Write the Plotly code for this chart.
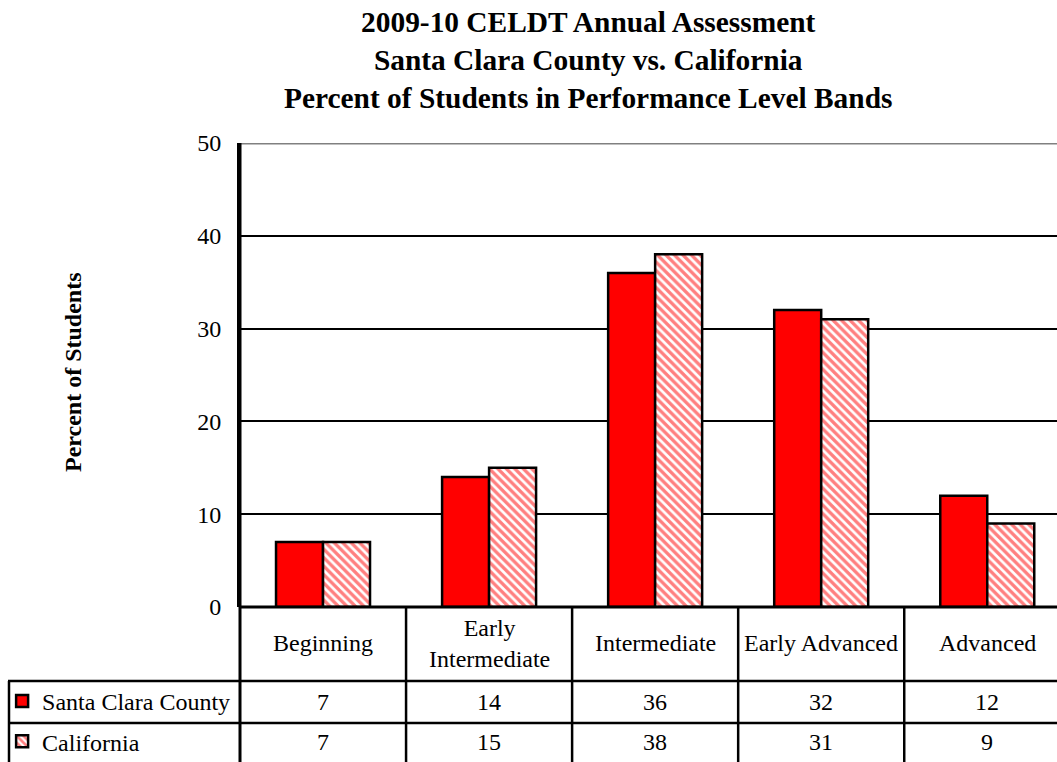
import plotly.graph_objects as go

categories = ["Beginning", "Early Intermediate", "Intermediate", "Early Advanced", "Advanced"]
header_labels = ["Beginning", "Early<br>Intermediate", "Intermediate", "Early Advanced", "Advanced"]
scc_values = [7, 14, 36, 32, 12]
ca_values = [7, 15, 38, 31, 9]
series_names = ["Santa Clara County", "California"]
y_ticks = [0, 10, 20, 30, 40, 50]
title_lines = ["2009-10 CELDT Annual Assessment", "Santa Clara County vs. California",
               "Percent of Students in Performance Level Bands"]
y_title = "Percent of Students"

W, H = 1057, 762
FONT = "Liberation Serif, Times New Roman, serif"

def px(p):
    return p / W

def py(p):
    return 1 - p / H

x_idx = list(range(len(categories)))

fig = go.Figure()
fig.add_trace(go.Bar(
    x=x_idx, y=scc_values, name=series_names[0], legendgroup="a",
    marker=dict(color="#FF0000", line=dict(color="black", width=2.5)),
))
fig.add_trace(go.Bar(
    x=x_idx, y=ca_values, name=series_names[1], legendgroup="b",
    marker=dict(color="white", line=dict(color="black", width=2.5),
                pattern=dict(shape="\\", fgcolor="#FF0000", bgcolor="white",
                             size=6, solidity=0.55)),
))

shapes = []
shapes.append(dict(type="line", xref="paper", yref="y", x0=px(240), x1=1, y0=50, y1=50,
                   line=dict(color="#808080", width=3)))
for i in range(len(categories)):
    shapes.append(dict(type="line", xref="x", yref="paper", x0=i + 0.5, x1=i + 0.5,
                       y0=py(607), y1=0, line=dict(color="black", width=2.5)))
shapes.append(dict(type="line", xref="paper", yref="paper", x0=px(240), x1=px(240),
                   y0=py(143), y1=0, line=dict(color="black", width=3)))
shapes.append(dict(type="line", xref="paper", yref="paper", x0=px(9), x1=px(9),
                   y0=py(681), y1=0, line=dict(color="black", width=2.5)))
for yy in [681, 723]:
    shapes.append(dict(type="line", xref="paper", yref="paper", x0=px(8), x1=1,
                       y0=py(yy), y1=py(yy), line=dict(color="black", width=2.5)))
shapes.append(dict(type="line", xref="paper", yref="paper", x0=px(240), x1=1,
                   y0=py(607), y1=py(607), line=dict(color="black", width=3)))

tfont = dict(family=FONT, size=24, color="black")
annotations = []
for i, lab in enumerate(header_labels):
    annotations.append(dict(x=i, xref="x", y=py(643), yref="paper", text=lab,
                            xanchor="center", yanchor="middle", showarrow=False, font=tfont))
for i, (a, b) in enumerate(zip(scc_values, ca_values)):
    annotations.append(dict(x=i, xref="x", y=py(702), yref="paper", text=str(a),
                            xanchor="center", yanchor="middle", showarrow=False, font=tfont))
    annotations.append(dict(x=i, xref="x", y=py(742), yref="paper", text=str(b),
                            xanchor="center", yanchor="middle", showarrow=False, font=tfont))
annotations.append(dict(x=px(73), y=py(372), xref="paper", yref="paper",
                        text="<b>" + y_title + "</b>", textangle=-90, showarrow=False,
                        xanchor="center", yanchor="middle",
                        font=dict(family=FONT, size=24, color="black")))
annotations.append(dict(x=px(588), y=py(60), xref="paper", yref="paper",
                        text="<b>" + "<br>".join(title_lines) + "</b>", showarrow=False,
                        xanchor="center", yanchor="middle",
                        font=dict(family=FONT, size=29.4, color="black")))

fig.update_layout(
    width=W, height=H,
    margin=dict(l=0, r=0, t=0, b=0, autoexpand=False),
    paper_bgcolor="white", plot_bgcolor="white",
    font=dict(family=FONT, color="black"),
    barmode="group", bargap=0.434, bargroupgap=0,
    xaxis=dict(domain=[px(240), 1], range=[-0.5, 4.42], showticklabels=False,
               showgrid=False, zeroline=False, showline=False, automargin=False, fixedrange=True),
    yaxis=dict(domain=[py(607), py(143)], range=[0, 50], tickvals=y_ticks,
               showgrid=True, gridcolor="black", gridwidth=2, zeroline=False,
               showline=True, linecolor="black", linewidth=3, ticks="",
               ticklabelstandoff=11, automargin=False,
               tickfont=dict(family=FONT, size=24, color="black")),
    showlegend=True,
    legend=dict(x=0.002, y=py(679), xanchor="left", yanchor="top",
                font=dict(family=FONT, size=24, color="black"),
                tracegroupgap=6, bgcolor="rgba(0,0,0,0)", itemclick=False),
    shapes=shapes, annotations=annotations,
)

fig.write_html("out.html")
